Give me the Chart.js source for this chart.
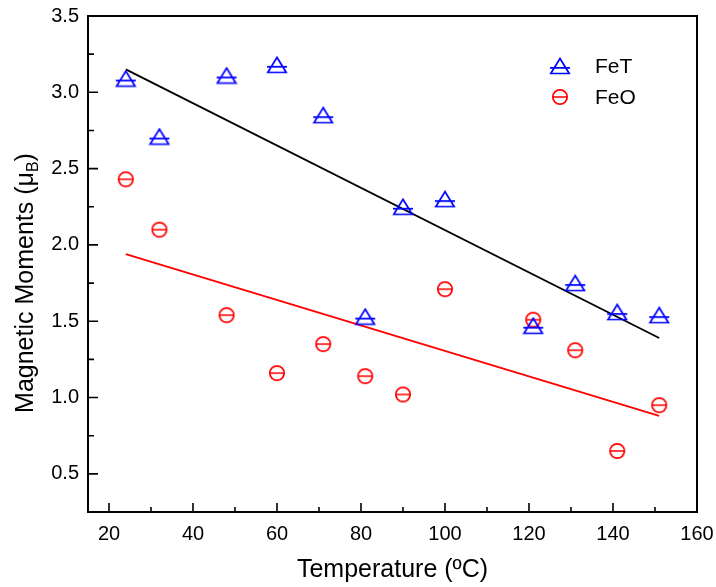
<!DOCTYPE html>
<html>
<head>
<meta charset="utf-8">
<script src="https://cdn.jsdelivr.net/npm/chart.js@4.4.0/dist/chart.umd.min.js"></script>
<style>
  html, body { margin: 0; padding: 0; background: #fff; }
</style>
</head>
<body>
<canvas id="chart" width="716" height="587"></canvas>
<script>
// data
const temps = [24, 32, 48, 60, 71, 81, 90, 100, 121, 131, 141, 151];
const fetValues = [3.09, 2.71, 3.11, 3.18, 2.85, 1.53, 2.25, 2.30, 1.47, 1.75, 1.56, 1.54];
const feoValues = [2.43, 2.10, 1.54, 1.16, 1.35, 1.14, 1.02, 1.71, 1.51, 1.31, 0.65, 0.95];
const fitTemps = [24, 151];
const fetFit = [3.15, 1.39];
const feoFit = [1.94, 0.88];
const xTicks = [20, 40, 60, 80, 100, 120, 140, 160];
const yTicks = [0.5, 1.0, 1.5, 2.0, 2.5, 3.0, 3.5];

const FONT = "'Liberation Sans', Arial, sans-serif";

// markers like the origin ones: triangle with a bar, circle with a bar
function triangleMark(color){
    const c = document.createElement('canvas');
    c.width = 22; c.height = 18;
    const g = c.getContext('2d');
    g.strokeStyle = color; g.lineWidth = 1.7;
    g.beginPath();
    g.moveTo(11, 1.5); g.lineTo(20.2, 16.5); g.lineTo(1.8, 16.5); g.closePath();
    g.moveTo(1, 10.8); g.lineTo(21, 10.8);
    g.stroke();
    return c;
}
function circleMark(color){
    const c = document.createElement('canvas');
    c.width = 18; c.height = 18;
    const g = c.getContext('2d');
    g.strokeStyle = color; g.lineWidth = 1.7;
    g.beginPath();
    g.arc(9, 9, 7.2, 0, Math.PI * 2);
    g.moveTo(1.8, 9); g.lineTo(16.2, 9);
    g.stroke();
    return c;
}
const triBlue = triangleMark('#0000ff');
const circRed = circleMark('#ff0000');

function pts(xs, ys){
    return xs.map((v, i) => ({x: v, y: ys[i]}));
}

function noPad(s){
    s.paddingLeft = 0; s.paddingRight = 0;
    s.paddingTop = 0; s.paddingBottom = 0;
}

const frame = {
    id: 'frame',
    afterDraw(chart){
        const ctx = chart.ctx, a = chart.chartArea;
        const x = chart.scales.x, y = chart.scales.y;
        ctx.save();
        ctx.strokeStyle = '#000';
        ctx.lineWidth = 2;
        ctx.strokeRect(a.left, a.top, a.right - a.left, a.bottom - a.top);

        ctx.lineWidth = 1.6;
        ctx.beginPath();
        xTicks.forEach((v, i) => {
            const px = x.getPixelForValue(v);
            ctx.moveTo(px, a.bottom); ctx.lineTo(px, a.bottom - 9);
            if (i < xTicks.length - 1) {
                const m = x.getPixelForValue((v + xTicks[i + 1]) / 2);
                ctx.moveTo(m, a.bottom); ctx.lineTo(m, a.bottom - 5);
            }
        });
        yTicks.forEach((v, i) => {
            const py = y.getPixelForValue(v);
            ctx.moveTo(a.left, py); ctx.lineTo(a.left + 10, py);
            if (i < yTicks.length - 1) {
                const m = y.getPixelForValue((v + yTicks[i + 1]) / 2);
                ctx.moveTo(a.left, m); ctx.lineTo(a.left + 6, m);
            }
        });
        ctx.stroke();

        // axis titles
        ctx.fillStyle = '#000';
        ctx.font = '25px ' + FONT;
        ctx.textAlign = 'center';
        ctx.textBaseline = 'alphabetic';
        ctx.fillText('Temperature (ºC)', (a.left + a.right) / 2, 577);

        const main = 'Magnetic Moments (μ', sub = 'B', end = ')';
        ctx.font = '25px ' + FONT;
        const w1 = ctx.measureText(main).width, w3 = ctx.measureText(end).width;
        ctx.font = '16px ' + FONT;
        const w2 = ctx.measureText(sub).width;
        const total = w1 + w2 + w3;
        ctx.translate(33, 283);
        ctx.rotate(-Math.PI / 2);
        ctx.textAlign = 'left';
        ctx.font = '25px ' + FONT;
        ctx.fillText(main, -total / 2, 0);
        ctx.font = '16px ' + FONT;
        ctx.fillText(sub, -total / 2 + w1, 5);
        ctx.font = '25px ' + FONT;
        ctx.fillText(end, -total / 2 + w1 + w2, 0);
        ctx.setTransform(1, 0, 0, 1, 0, 0);

        // legend
        const items = [
            {img: triBlue, label: chart.data.datasets[0].label, y: 66},
            {img: circRed, label: chart.data.datasets[1].label, y: 97}
        ];
        ctx.font = '21px ' + FONT;
        ctx.textBaseline = 'middle';
        items.forEach(it => {
            ctx.drawImage(it.img, 560 - it.img.width / 2, it.y - it.img.height / 2);
            ctx.fillText(it.label, 595, it.y + 1);
        });
        ctx.restore();
    }
};

new Chart(document.getElementById('chart'), {
    type: 'scatter',
    data: {
        datasets: [
            {
                label: 'FeT',
                data: pts(temps, fetValues),
                pointStyle: triBlue,
                pointRadius: 9,
                showLine: false
            },
            {
                label: 'FeO',
                data: pts(temps, feoValues),
                pointStyle: circRed,
                pointRadius: 9,
                showLine: false
            },
            {
                label: 'FeT fit',
                data: pts(fitTemps, fetFit),
                showLine: true,
                borderColor: '#000',
                borderWidth: 1.8,
                pointRadius: 0
            },
            {
                label: 'FeO fit',
                data: pts(fitTemps, feoFit),
                showLine: true,
                borderColor: '#ff0000',
                borderWidth: 1.8,
                pointRadius: 0
            }
        ]
    },
    options: {
        responsive: false,
        animation: false,
        layout: { padding: { left: 0, top: 16, right: 19, bottom: 0 } },
        plugins: {
            legend: { display: false },
            tooltip: { enabled: false }
        },
        scales: {
            x: {
                type: 'linear',
                min: 15,
                max: 160,
                grid: { display: false, drawTicks: false },
                border: { display: false },
                afterBuildTicks: s => { s.ticks = xTicks.map(v => ({value: v})); },
                afterFit: s => { s.height = 75; noPad(s); },
                ticks: {
                    color: '#000',
                    padding: 10,
                    font: { family: FONT, size: 20 },
                    callback: v => String(v)
                }
            },
            y: {
                type: 'linear',
                min: 0.25,
                max: 3.5,
                grid: { display: false, drawTicks: false },
                border: { display: false },
                afterBuildTicks: s => { s.ticks = yTicks.map(v => ({value: v})); },
                afterFit: s => { s.width = 88; noPad(s); },
                ticks: {
                    color: '#000',
                    padding: 9,
                    font: { family: FONT, size: 20 },
                    callback: v => Number(v).toFixed(1)
                }
            }
        }
    },
    plugins: [frame]
});
</script>
</body>
</html>
